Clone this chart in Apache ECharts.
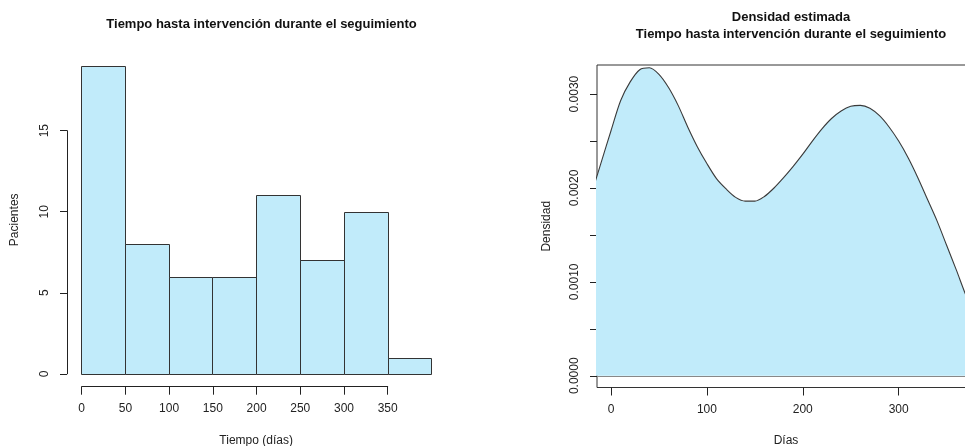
<!DOCTYPE html>
<html>
<head>
<meta charset="utf-8">
<script src="https://cdn.jsdelivr.net/npm/echarts@6/dist/echarts.min.js"></script>
<style>
html,body{margin:0;padding:0;background:#fff;}
#chart{width:965px;height:446px;}
</style>
</head>
<body>
<div id="chart"></div>
<script>
// Histogram data
const binStarts = [0, 50, 100, 150, 200, 250, 300, 350];
const binEnds   = [50, 100, 150, 200, 250, 300, 350, 400];
const counts    = [19, 8, 6, 6, 11, 7, 10, 1];
const histXTicks = [0, 50, 100, 150, 200, 250, 300, 350];
const histYTicks = [0, 5, 10, 15];

// Density data (x in days, y density)
const densX = [-20, -10, 0, 10, 20, 30, 40, 50, 60, 70, 80, 90, 100, 110, 120, 130, 140, 150, 160, 170, 180, 190, 200, 210, 220, 230, 240, 250, 260, 270, 280, 290, 300, 310, 320, 330, 340, 350, 360, 370, 380, 390];
const densY = [0.00195, 0.00228, 0.00261, 0.00293, 0.00313, 0.00326, 0.00328, 0.00321, 0.00307, 0.00288, 0.00265, 0.00244, 0.00226, 0.00210, 0.00199, 0.00190, 0.00186, 0.00186, 0.00191, 0.00200, 0.00211, 0.00223, 0.00236, 0.00250, 0.00263, 0.00274, 0.00282, 0.00287, 0.00288, 0.00285, 0.00277, 0.00265, 0.00250, 0.00232, 0.00211, 0.00188, 0.00165, 0.00139, 0.00113, 0.00086, 0.00062, 0.00040];
const densXTicks = [0, 100, 200, 300];
const densYTickMarks = [0, 0.0005, 0.001, 0.0015, 0.002, 0.0025, 0.003];
const densYLabels = [0, 0.001, 0.002, 0.003];

const FONT = 'Liberation Sans, Arial, sans-serif';
const TXT = '#222';
const FILL = '#c1ebfa';
const EDGE = '#333';

const histData = binStarts.map((s, i) => [s, binEnds[i], counts[i]]);
const densData = densX.map((x, i) => [x, densY[i]]);

const chart = echarts.init(document.getElementById('chart'), null, {renderer: 'canvas'});

const hiddenAxisParts = {
  axisLine: {show: false, onZero: false}, axisTick: {show: false}, axisLabel: {show: false}, splitLine: {show: false}
};
const gridBase = {show: false, containLabel: false, outerBoundsMode: 'none'};

const option = {
  animation: false,
  backgroundColor: '#fff',
  textStyle: {fontFamily: FONT},
  title: [
    {
      text: 'Tiempo hasta intervención durante el seguimiento',
      left: 256.5, top: 13, textAlign: 'center',
      textStyle: {fontFamily: FONT, fontSize: 13, fontWeight: 'bold', color: '#111'}
    },
    {
      text: 'Densidad estimada\nTiempo hasta intervención durante el seguimiento',
      left: 786, top: 4, textAlign: 'center',
      textStyle: {fontFamily: FONT, fontSize: 13, fontWeight: 'bold', color: '#111', lineHeight: 17}
    }
  ],
  grid: [
    // 0: histogram plot region
    Object.assign({}, gridBase, {left: 67, top: 53.5, width: 378.3, height: 332.6}),
    // 1: left y axis (0..15)
    Object.assign({}, gridBase, {left: 67, top: 130.7, width: 10, height: 243.1}),
    // 2: left x axis (0..350)
    Object.assign({}, gridBase, {left: 81.7, top: 376.7, width: 306, height: 10}),
    // 3: density plot region
    Object.assign({}, gridBase, {left: 597, top: 65, width: 378, height: 322.5, show: true,
      borderColor: EDGE, borderWidth: 1, backgroundColor: 'transparent'})
  ],
  xAxis: [
    Object.assign({type: 'value', gridIndex: 0, min: -16, max: 416,
      name: 'Tiempo (días)', nameLocation: 'middle', nameGap: 49,
      nameTextStyle: {fontFamily: FONT, fontSize: 12, color: TXT}}, hiddenAxisParts),
    {type: 'value', gridIndex: 1, min: 0, max: 1, show: false},
    {type: 'value', gridIndex: 2, min: 0, max: 350, interval: 50, position: 'bottom',
      axisLine: {show: true, onZero: false, lineStyle: {color: TXT, width: 1}},
      axisTick: {show: true, length: 8, lineStyle: {color: TXT}},
      axisLabel: {show: true, margin: 16, fontFamily: FONT, fontSize: 12, color: TXT,
        customValues: histXTicks},
      splitLine: {show: false}},
    {type: 'value', gridIndex: 3, min: -14.6, max: 379.6, position: 'bottom',
      name: 'Días', nameLocation: 'middle', nameGap: 47,
      nameTextStyle: {fontFamily: FONT, fontSize: 12, color: TXT},
      axisLine: {show: false, onZero: false},
      axisTick: {show: true, length: 8, customValues: densXTicks, lineStyle: {color: TXT}},
      axisLabel: {show: true, margin: 16, fontFamily: FONT, fontSize: 12, color: TXT, customValues: densXTicks},
      splitLine: {show: false}}
  ],
  yAxis: [
    Object.assign({type: 'value', gridIndex: 0, min: -0.76, max: 19.76,
      name: 'Pacientes', nameLocation: 'middle', nameGap: 46,
      nameTextStyle: {fontFamily: FONT, fontSize: 12, color: TXT}}, hiddenAxisParts),
    {type: 'value', gridIndex: 1, min: 0, max: 15, interval: 5, position: 'left',
      axisLine: {show: true, onZero: false, lineStyle: {color: TXT, width: 1}},
      axisTick: {show: true, length: 7, lineStyle: {color: TXT}},
      axisLabel: {show: true, rotate: 90, margin: 16, fontFamily: FONT, fontSize: 12, color: TXT,
        customValues: histYTicks, align: 'center', verticalAlign: 'bottom'},
      splitLine: {show: false}},
    {type: 'value', gridIndex: 2, min: 0, max: 1, show: false},
    {type: 'value', gridIndex: 3, min: -0.000125, max: 0.00331, position: 'left',
      name: 'Densidad', nameLocation: 'middle', nameGap: 44,
      nameTextStyle: {fontFamily: FONT, fontSize: 12, color: TXT},
      axisLine: {show: false, onZero: false},
      axisTick: {show: true, length: 7, customValues: densYTickMarks, lineStyle: {color: TXT}},
      axisLabel: {show: true, rotate: 90, margin: 16, fontFamily: FONT, fontSize: 12, color: TXT,
        customValues: densYLabels, align: 'center', verticalAlign: 'bottom',
        formatter: v => Number(v).toFixed(4)},
      splitLine: {show: false}}
  ],
  series: [
    {
      type: 'custom', xAxisIndex: 0, yAxisIndex: 0, silent: true,
      data: histData,
      renderItem: function (params, api) {
        const p0 = api.coord([api.value(0), api.value(2)]);
        const p1 = api.coord([api.value(1), 0]);
        const x0 = Math.round(p0[0]) + 0.5, x1 = Math.round(p1[0]) + 0.5;
        const y0 = Math.round(p0[1]) + 0.5, y1 = Math.round(p1[1]) + 0.5;
        return {
          type: 'rect',
          shape: {x: x0, y: y0, width: x1 - x0, height: y1 - y0},
          style: {fill: FILL, stroke: EDGE, lineWidth: 1}
        };
      }
    },
    {
      type: 'line', xAxisIndex: 3, yAxisIndex: 3, silent: true,
      data: densData, smooth: 0.3, showSymbol: false, clip: true,
      lineStyle: {color: '#3a3a3a', width: 1.1},
      areaStyle: {color: FILL, opacity: 1, origin: 0},
      markLine: {
        silent: true, symbol: ['none', 'none'], label: {show: false},
        lineStyle: {color: '#888', width: 1, type: 'solid'},
        data: [{yAxis: 0}]
      }
    }
  ]
};

chart.setOption(option);
</script>
</body>
</html>
